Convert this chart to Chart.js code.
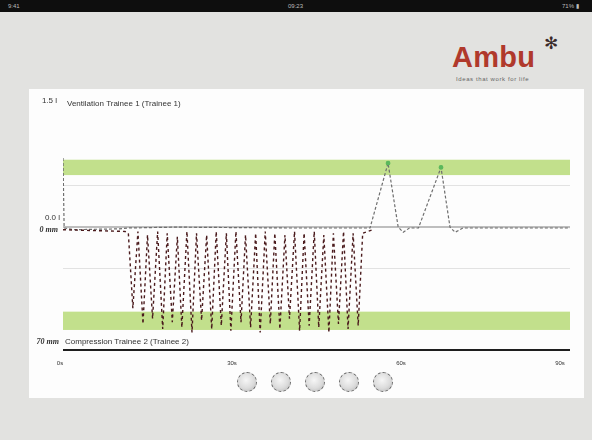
<!DOCTYPE html>
<html>
<head>
<meta charset="utf-8">
<script src="https://cdn.jsdelivr.net/npm/chart.js@4.4.0/dist/chart.umd.min.js"></script>
<style>
  html, body { margin: 0; padding: 0; }
  body { width: 592px; height: 440px; background: #e2e2e0; position: relative; overflow: hidden; font-family: "Liberation Sans", Arial, sans-serif; }
  #statusBar { position: absolute; left: 0; top: 0; width: 592px; height: 12px; background: #0e0e0e; color: #bbb; font-size: 6px; line-height: 12px; }
  #statusBar span { position: absolute; }
  #card { position: absolute; left: 29px; top: 89px; width: 555px; height: 309px; background: #fdfdfd; }
  #logo { position: absolute; left: 452px; top: 41px; font-size: 29px; font-weight: bold; color: #b0392c; letter-spacing: 0.3px; }
  #star { position: absolute; left: 544px; top: 33px; font-family: "DejaVu Sans"; font-size: 17px; color: #3a2a2a; }
  #tagline { position: absolute; left: 456px; top: 76px; font-size: 6px; color: #666; letter-spacing: 0.6px; -webkit-font-smoothing: antialiased; }
  .dot { position: absolute; width: 20px; height: 20px; border-radius: 50%; box-sizing: border-box; border: 1px dashed #666;
         background: radial-gradient(circle at 45% 40%, #f6f6f6 0%, #dcdcdc 55%, #b3b3b3 100%); }
  #chart { position: absolute; left: 0; top: 0; }
</style>
</head>
<body>
<div id="statusBar"><span style="left:8px">9:41</span><span style="left:288px">09:23</span><span style="left:562px">71% ▮</span></div>
<div id="logo">Ambu</div>
<div id="star">✻</div>
<div id="tagline">Ideas that work for life</div>
<div id="card"></div>
<div class="dot" style="left:237px; top:372px"></div>
<div class="dot" style="left:271px; top:372px"></div>
<div class="dot" style="left:305px; top:372px"></div>
<div class="dot" style="left:339px; top:372px"></div>
<div class="dot" style="left:373px; top:372px"></div>
<canvas id="chart" width="592" height="440"></canvas>
<script>
// time axis (s)
const xTicks = [0, 30, 60, 90];
const xTickLabels = ["0s", "30s", "60s", "90s"];

// ventilation volume (l)
const ventTime   = [0, 0.2, 2, 10, 11.5, 20, 40, 54.5, 57.7, 59.5, 60.4, 61.5, 63.1, 67.1, 68.7, 69.6, 71, 90];
const ventVolume = [0.82, 0.0, -0.02, -0.01, 0.0, 0.01, 0.0, 0.0, 0.76, 0.01, -0.05, 0.0, 0.0, 0.71, 0.01, -0.05, 0.0, 0.0];
const ventTarget = [0.62, 0.80];
const ventGrid = [0.5];

// compression depth (mm)
const compTime = [0, 11.0, 11.6, 12.4, 13.3, 14.2, 15.0, 15.9, 16.8, 17.7, 18.5, 19.4, 20.3, 21.1, 22.0, 22.9,
  23.7, 24.6, 25.5, 26.4, 27.2, 28.1, 29.0, 29.8, 30.7, 31.6, 32.4, 33.3, 34.2, 35.0, 35.9, 36.8, 37.6,
  38.5, 39.4, 40.2, 41.1, 42.0, 42.8, 43.7, 44.6, 45.4, 46.3, 47.2, 48.0, 48.9, 49.8, 50.6, 51.5, 52.4, 53.2, 55.0];
const compDepth = [1, 2, 3, 46, 2, 55, 4, 52, 2, 58, 3, 54, 5, 57, 2, 60,
  3, 53, 4, 58, 2, 56, 3, 59, 2, 54, 4, 57, 3, 60, 2, 55, 3,
  58, 4, 52, 2, 59, 3, 56, 2, 57, 4, 60, 3, 55, 2, 58, 3, 56, 3, 1];
const compTarget = [48, 58.5];
const compGrid = [23];

const yVentRange = [-1.43, 1.5];
const yCompRange = [-73.4, 70];

const overlay = {
  id: 'overlay',
  beforeDatasetsDraw(chart) {
    const { ctx, chartArea: a, scales } = chart;
    const yv = scales.yVent, yc = scales.yComp;
    ctx.save();
    // target bands
    ctx.fillStyle = '#c2e08c';
    let t = yv.getPixelForValue(ventTarget[1]), b = yv.getPixelForValue(ventTarget[0]);
    ctx.fillRect(a.left, t, a.width, b - t);
    t = yc.getPixelForValue(compTarget[0]); b = yc.getPixelForValue(compTarget[1]);
    ctx.fillRect(a.left, t, a.width, b - t);
    // grid lines
    ctx.strokeStyle = '#e2e2e2';
    ctx.lineWidth = 1;
    ventGrid.forEach(v => {
      const y = Math.round(yv.getPixelForValue(v)) + 0.5;
      ctx.beginPath(); ctx.moveTo(a.left, y); ctx.lineTo(a.right, y); ctx.stroke();
    });
    compGrid.forEach(v => {
      const y = Math.round(yc.getPixelForValue(v)) + 0.5;
      ctx.beginPath(); ctx.moveTo(a.left, y); ctx.lineTo(a.right, y); ctx.stroke();
    });
    // zero line
    ctx.strokeStyle = '#a8a8a8';
    ctx.lineWidth = 1.5;
    const y0 = yv.getPixelForValue(0) - 1;
    ctx.beginPath(); ctx.moveTo(a.left, y0); ctx.lineTo(a.right, y0); ctx.stroke();
    ctx.restore();
  },
  afterDraw(chart) {
    const { ctx, chartArea: a, scales } = chart;
    const yv = scales.yVent, yc = scales.yComp, x = scales.x;
    ctx.save();
    // bottom axis line
    ctx.strokeStyle = '#1e1e1e';
    ctx.lineWidth = 2;
    ctx.beginPath(); ctx.moveTo(a.left, a.bottom); ctx.lineTo(a.right, a.bottom); ctx.stroke();

    ctx.fillStyle = '#333';
    ctx.font = '8px "Liberation Sans", Arial, sans-serif';
    ctx.textBaseline = 'middle';
    ctx.textAlign = 'right';
    ctx.fillText('1.5 l', a.left - 6, yv.getPixelForValue(1.5) + 1);
    ctx.fillText('0.0 l', a.left - 3, yv.getPixelForValue(0) - 10);
    ctx.font = 'italic bold 8px "Liberation Serif", serif';
    ctx.fillText('0 mm', a.left - 5, yc.getPixelForValue(0) + 2);
    ctx.fillText('70 mm', a.left - 4, yc.getPixelForValue(70) - 8);

    ctx.textAlign = 'left';
    ctx.font = '8px "Liberation Sans", Arial, sans-serif';
    ctx.fillText('Ventilation Trainee 1 (Trainee 1)', a.left + 4, yv.getPixelForValue(1.5) + 4);
    ctx.fillText('Compression Trainee 2 (Trainee 2)', a.left + 2, a.bottom - 8);

    ctx.textAlign = 'center';
    ctx.font = '6px "Liberation Sans", Arial, sans-serif';
    xTicks.forEach((v, i) => {
      let px = x.getPixelForValue(v);
      if (i === 0) px -= 3;
      if (i === xTicks.length - 1) px -= 10;
      ctx.fillText(xTickLabels[i], px, a.bottom + 13);
    });
    ctx.restore();
  }
};

new Chart(document.getElementById('chart'), {
  type: 'line',
  data: {
    datasets: [
      {
        label: 'Compression',
        data: compTime.map((t, i) => ({ x: t, y: compDepth[i] })),
        yAxisID: 'yComp',
        borderColor: '#4a1a1c',
        borderWidth: 1.4,
        borderDash: [3, 3],
        pointRadius: 0,
        tension: 0
      },
      {
        label: 'Ventilation',
        data: ventTime.map((t, i) => ({ x: t, y: ventVolume[i] })),
        yAxisID: 'yVent',
        borderColor: '#6e6e6e',
        borderWidth: 1.2,
        borderDash: [3, 2],
        pointRadius: ventVolume.map(v => (v > ventTarget[0] && v <= ventTarget[1]) ? 1.8 : 0),
        pointBackgroundColor: '#5cb85c',
        pointBorderColor: '#5cb85c',
        tension: 0
      }
    ]
  },
  options: {
    responsive: false,
    animation: false,
    events: [],
    layout: { padding: { left: 63, right: 22, top: 100, bottom: 90 } },
    plugins: { legend: { display: false }, tooltip: { enabled: false } },
    scales: {
      x: { type: 'linear', min: xTicks[0], max: xTicks[xTicks.length - 1], display: false },
      yVent: { type: 'linear', min: yVentRange[0], max: yVentRange[1], display: false },
      yComp: { type: 'linear', min: yCompRange[0], max: yCompRange[1], reverse: true, display: false }
    }
  },
  plugins: [overlay]
});
</script>
</body>
</html>
